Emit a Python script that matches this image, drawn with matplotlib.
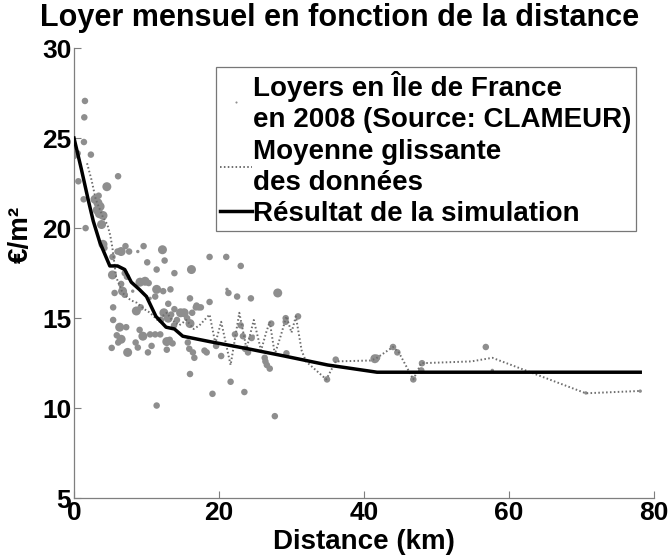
import matplotlib
matplotlib.use("Agg")
import matplotlib.pyplot as plt
import numpy as np

plt.rcParams['font.family'] = ['Liberation Sans', 'DejaVu Sans']
plt.rcParams['font.weight'] = 'bold'

# Observed rents (distance km, €/m², marker size class)
obs_dist = [0.0, 0.5, 1.37, 1.51, 1.42, 2.33, 0.6, 6.08, 4.53, 1.33, 2.9, 3.3, 3.6, 3.2, 3.5, 4.0,
            3.4, 3.8, 1.6, 4.0, 4.2, 5.3, 6.0, 6.5, 7.1, 7.6, 8.8, 9.6, 12.2, 10.1, 12.5, 11.4,
            13.85, 16.2, 18.7, 21.0, 23.0, 5.3, 6.5, 7.3, 7.0, 9.1, 9.8, 10.3, 5.6, 6.7, 7.0, 8.1,
            11.4, 12.3, 13.3, 8.6, 9.2, 10.5, 11.2, 13.0, 13.85, 16.0, 16.9, 17.5, 18.7, 21.3,
            21.1, 22.5, 24.4, 28.1, 5.4, 5.4, 6.3, 5.9, 6.5, 5.2, 6.1, 7.4, 7.2, 8.5, 8.8, 9.05,
            9.5, 10.2, 10.5, 11.2, 11.9, 10.7, 11.4, 12.0, 12.4, 13.0, 13.4, 13.8, 12.8, 13.2,
            13.6, 12.8, 14.2, 14.7, 15.2, 15.6, 16.0, 16.3, 16.8, 17.2, 15.7, 15.9, 16.4, 16.6,
            16.0, 18.0, 18.3, 19.1, 19.6, 20.3, 21.6, 22.2, 23.0, 23.3, 23.6, 24.0, 24.5, 24.7,
            23.5, 26.3, 26.4, 26.6, 27.0, 27.7, 27.2, 29.2, 29.2, 30.9, 29.3, 34.9, 36.1, 41.5,
            41.8, 44.0, 44.6, 46.8, 47.9, 48.0, 56.8, 57.7, 70.6, 78.1]
obs_rent = [24.0, 24.15, 24.78, 27.06, 26.15, 24.08, 22.6, 22.88, 22.3, 21.6, 21.6, 21.4, 21.2,
            21.0, 20.8, 20.7, 21.8, 20.2, 20.0, 19.1, 18.9, 18.4, 18.7, 18.7, 19.0, 18.7, 18.7,
            19.0, 18.8, 18.1, 18.2, 17.7, 17.5, 17.7, 18.4, 18.4, 17.9, 17.4, 16.9, 17.3, 17.5,
            17.0, 17.05, 16.95, 16.4, 16.5, 16.3, 16.5, 16.6, 16.5, 16.6, 15.4, 15.6, 16.1, 16.2,
            15.8, 15.5, 16.1, 15.7, 15.6, 15.9, 16.4, 16.6, 16.2, 16.1, 16.4, 15.6, 14.9, 14.5,
            14.05, 13.83, 13.35, 13.65, 13.1, 14.5, 13.65, 13.37, 14.35, 14.0, 13.1, 14.1, 14.1,
            14.1, 13.46, 10.15, 14.9, 15.3, 15.0, 15.2, 14.6, 13.7, 13.8, 13.6, 13.25, 14.9, 15.3,
            15.3, 15.0, 14.7, 15.3, 15.6, 15.6, 13.65, 13.3, 13.1, 12.8, 11.9, 13.2, 13.1, 10.8,
            13.46, 12.9, 11.47, 14.1, 14.6, 14.0, 13.3, 13.1, 13.9, 14.0, 10.9, 12.8, 12.6, 12.4,
            12.2, 9.56, 14.7, 15.0, 14.8, 15.1, 13.05, 11.6, 12.7, 12.75, 12.8, 13.4, 13.1, 11.6,
            12.1, 12.5, 13.4, 12.1, 10.85, 10.95]
obs_size = ['m', 'm', 'm', 'm', 'm', 'm', 'm', 'm', 'l', 'm', 'l', 'l', 'l', 'l', 'l', 'l',
            'm', 'l', 'm', 'l', 'm', 'm', 'm', 'l', 'm', 'm', 's', 'm', 'l', 'm', 'm', 'm',
            'm', 'l', 'm', 'm', 'm', 'l', 'm', 'm', 'm', 'l', 'l', 'm', 'm', 'l', 'm', 's',
            'l', 'm', 'm', 'l', 'm', 's', 'm', 'm', 'm', 'm', 'm', 'm', 'm', 'm',
            's', 'm', 'm', 'l', 'm', 'm', 'l', 'm', 'l', 'm', 'm', 'l', 'm', 'm', 'm', 'm',
            'l', 'm', 'm', 'm', 'm', 'm', 'm', 'm', 'l', 'l', 'm', 'm', 'l', 'm',
            'm', 'm', 'm', 'l', 'l', 'm', 'l', 'm', 'm', 'm', 'm', 'm', 'm', 'm',
            'm', 'm', 'm', 'm', 'm', 'm', 'm', 'm', 'm', 'm', 'm', 'm', 'm', 's',
            'm', 'm', 'm', 'm', 'm', 'm', 'm', 'm', 'm', 'm', 'm', 'm', 'm', 'l',
            'm', 'm', 'm', 'm', 'm', 'm', 'm', 's', 's', 's']

# Moving average of the data
ma_dist = [1.8, 2.4, 3.0, 4.0, 4.6, 5.0, 5.3, 5.8, 6.7, 7.8, 8.7, 9.7, 10.5, 11.5, 12.8, 13.5,
           14.5, 15.5, 16.5, 17.3, 18.7, 19.5, 20.3, 21.6, 22.8, 23.8, 24.8, 25.8, 26.5, 27.0,
           27.7, 28.5, 29.3, 30.0, 30.6, 31.4, 32.0, 34.8, 36.1, 40.9, 41.6, 44.0, 44.8, 46.8,
           47.9, 54.8, 57.7, 70.6, 78.1]
ma_rent = [23.6, 22.7, 21.6, 20.6, 20.2, 19.6, 18.9, 17.3, 16.4, 16.0, 15.85, 15.5, 15.3, 14.9,
           15.3, 14.9, 14.6, 14.9, 14.4, 14.6, 15.2, 13.6, 14.8, 12.4, 15.3, 13.3, 14.9, 13.2,
           14.2, 14.8, 13.0, 14.0, 15.1, 14.2, 15.1, 13.2, 12.6, 11.6, 12.6, 12.65, 12.75, 13.4,
           13.1, 11.6, 12.5, 12.6, 12.8, 10.83, 10.96]

# Simulation result
sim_dist = [0.0, 1.0, 2.0, 2.65, 3.57, 4.94, 6.0, 7.0, 7.9, 9.0, 10.0, 11.3, 12.7, 13.85, 15.0,
            18.7, 24.0, 29.0, 35.0, 41.8, 78.1]
sim_rent = [25.0, 23.3, 21.5, 20.4, 19.2, 17.9, 17.9, 17.7, 17.0, 16.6, 16.2, 15.1, 14.5, 14.4,
            14.0, 13.7, 13.3, 12.9, 12.4, 12.0, 12.0]

labels = ["Loyers en Île de France\nen 2008 (Source: CLAMEUR)",
          "Moyenne glissante\ndes données",
          "Résultat de la simulation"]
title = "Loyer mensuel en fonction de la distance"
xlabel = "Distance (km)"
ylabel = "€/m²"
xticks = [0, 20, 40, 60, 80]
yticks = [5, 10, 15, 20, 25, 30]

size_map = {'s': 6, 'm': 22, 'l': 42}
sizes = [size_map[c] for c in obs_size]

fig = plt.figure(figsize=(6.7, 5.6), dpi=100)
ax = fig.add_axes([74 / 670, 61.7 / 560, 580 / 670, 450.3 / 560])

sc = ax.scatter(obs_dist, obs_rent, s=sizes, color='#8e8e8e', edgecolors='none', zorder=2)
ma, = ax.plot(ma_dist, ma_rent, color='#6e6e6e', linewidth=1.4, linestyle=(0, (0.8, 1.2)), zorder=3)
sim, = ax.plot(sim_dist, sim_rent, color='black', linewidth=2.5, zorder=4)

ax.set_xlim(0, 80)
ax.set_ylim(5, 30)
ax.set_xticks(xticks)
ax.set_yticks(yticks)
ax.tick_params(direction='in', length=5, width=0.8, color='#7f7f7f', labelsize=19, pad=2)
for lab in ax.get_xticklabels() + ax.get_yticklabels():
    lab.set_fontweight('bold')
for s in ['top', 'right']:
    ax.spines[s].set_visible(False)
for s in ['left', 'bottom']:
    ax.spines[s].set_color('#7f7f7f')
    ax.spines[s].set_linewidth(0.9)

ax.set_xlabel(xlabel, fontsize=20, fontweight='bold', labelpad=3)
ax.set_ylabel(ylabel, fontsize=20, fontweight='bold')
ax.yaxis.set_label_coords(-0.07, 0.585)
fig.text(340 / 670, 1 - 18 / 560, title, fontsize=22, fontweight='bold', ha='center', va='center')

proxy_sc = plt.Line2D([], [], linestyle='none', marker='o', markersize=1.5,
                      markerfacecolor='#8e8e8e', markeredgecolor='none')
leg = ax.legend([proxy_sc, ma, sim], labels, loc='upper right', bbox_to_anchor=(0.969, 0.958),
                fontsize=20, frameon=True, fancybox=False, edgecolor='#555555',
                handlelength=1.15, handletextpad=0.05, borderpad=0.15, labelspacing=0.2,
                borderaxespad=0)
leg.get_frame().set_linewidth(0.9)
for t in leg.get_texts():
    t.set_fontweight('bold')
    t.set_linespacing(1.25)

fig.savefig('out.png', dpi=100)
